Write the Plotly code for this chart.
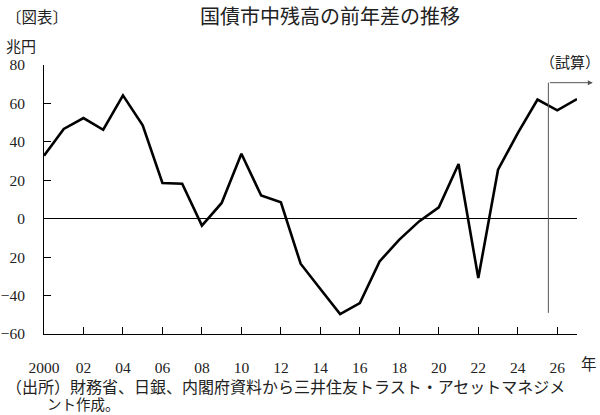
import plotly.graph_objects as go

years = list(range(2000, 2028))
values = [32.8, 46.7, 52.4, 46.3, 64.2, 48.6, 18.6, 18.2, -3.6, 8.2,
          33.8, 12.1, 8.5, -23.4, -36.6, -49.6, -43.9, -22.2, -10.9, -1.4,
          5.9, 28.5, -30.9, 25.5, 44.6, 62.0, 56.4, 62.3]

x_tickvals = list(range(2000, 2027, 2))
x_ticktext = ["2000", "02", "04", "06", "08", "10", "12", "14", "16", "18",
              "20", "22", "24", "26"]
y_tickvals = [-60, -40, -20, 0, 20, 40, 60, 80]
y_ticktext = ["−60", "−40", "20", "0", "20", "40", "60", "80"]

estimate_start = 2025.55
estimate_top = 70.8
estimate_bottom = -49.0
arrow_end = 2027.8

FONT = "Liberation Serif, 'Noto Sans CJK JP', serif"
TXT = "#222222"

fig = go.Figure()
fig.add_trace(go.Scatter(x=years, y=values, mode="lines",
                         line=dict(color="black", width=2.6),
                         hoverinfo="skip", showlegend=False))

fig.update_layout(
    width=600, height=415,
    margin=dict(l=44, r=23, t=65, b=81),
    paper_bgcolor="white", plot_bgcolor="white",
    font=dict(family=FONT, color=TXT, size=14),
    xaxis=dict(range=[2000, 2027], tickvals=x_tickvals, ticktext=x_ticktext,
               ticks="inside", ticklen=7, tickcolor="black", tickwidth=1,
               showline=True, linecolor="black", linewidth=1,
               showgrid=False, zeroline=False, ticklabelstandoff=19,
               automargin=False,
               tickfont=dict(size=15.5, family=FONT, color=TXT)),
    yaxis=dict(range=[-60, 80], tickvals=y_tickvals, ticktext=y_ticktext,
               ticks="inside", ticklen=7, tickcolor="black", tickwidth=1,
               showline=True, linecolor="black", linewidth=1,
               showgrid=False, zeroline=True, zerolinecolor="black",
               zerolinewidth=1, ticklabelstandoff=15, automargin=False,
               tickfont=dict(size=15.5, family=FONT, color=TXT)),
)

fig.add_shape(type="line", xref="x", yref="y",
              x0=estimate_start, x1=estimate_start,
              y0=estimate_bottom, y1=estimate_top,
              line=dict(color="#555555", width=1))
fig.add_annotation(x=arrow_end, y=estimate_top, xref="x", yref="y",
                   ax=estimate_start, ay=estimate_top, axref="x", ayref="y",
                   showarrow=True, arrowhead=2, arrowsize=1, arrowwidth=1,
                   arrowcolor="#555555", text="")

def ann(text, x, y, size, xanchor="left"):
    fig.add_annotation(text=text, x=x, y=y, xref="paper", yref="paper",
                       showarrow=False, xanchor=xanchor, yanchor="middle",
                       font=dict(family=FONT, size=size, color=TXT))

ann("国債市中残高の前年差の推移", 0.5366, 1.1784, 20, "center")
ann("〔図表〕", -0.075, 1.1784, 15.5)
ann("兆円", -0.075, 1.067, 15)
ann("（試算）", 0.987, 1.011, 15, "center")
ann("年", 1.0225, -0.115, 15.5, "center")
ann("（出所）財務省、日銀、内閣府資料から三井住友トラスト・アセットマネジメ", -0.075, -0.2007, 16)
ann("ント作成。", 0.002, -0.263, 14.5)

fig.write_html("out.html")
